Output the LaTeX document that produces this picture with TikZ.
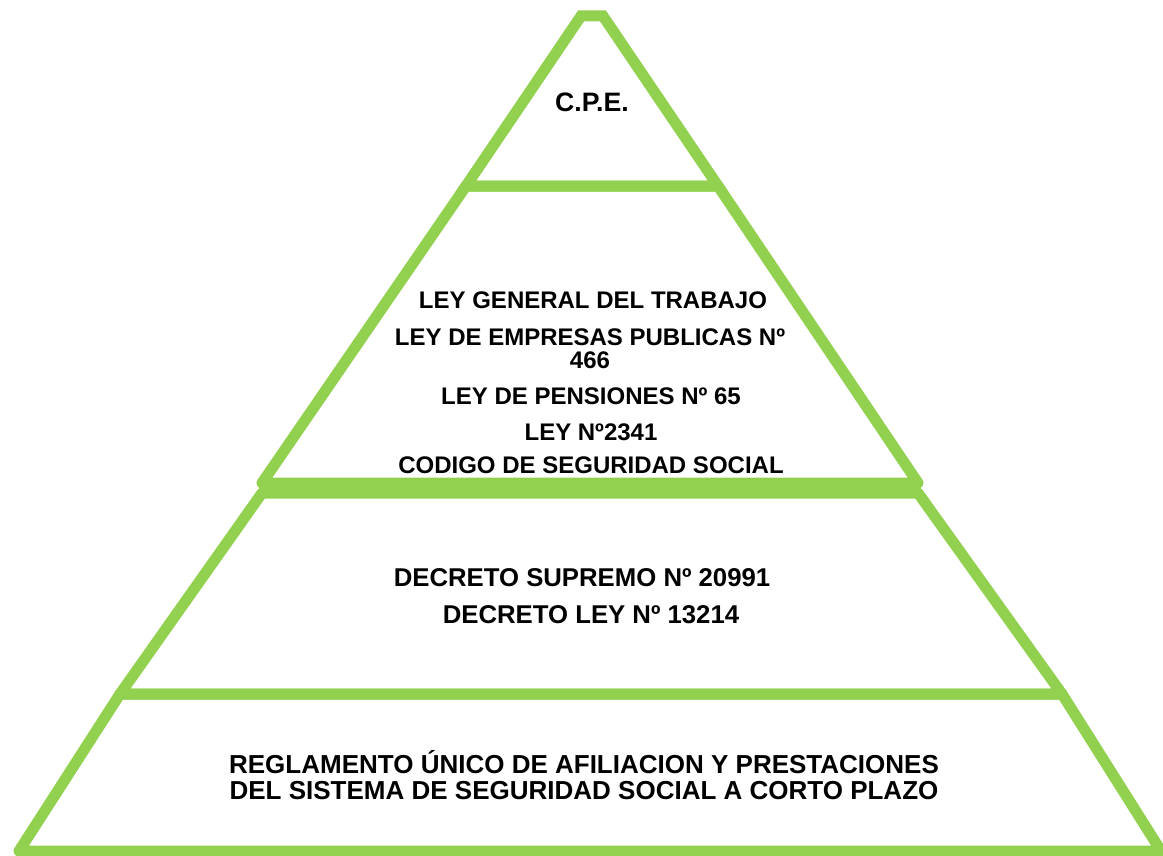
\documentclass[tikz,border=0pt]{standalone}
\usepackage{fontspec}
\setmainfont{Liberation Sans}
\usetikzlibrary{positioning}
\definecolor{pyrgreen}{RGB}{146,208,80}

\begin{document}
\begin{tikzpicture}[x=0.75pt,y=0.75pt,yscale=-1,xscale=1,
  layer/.style={draw=pyrgreen, line width=8.25pt, line join=round},
  lbl/.style={font=\fontsize{#1}{#1}\selectfont\bfseries, inner sep=0.75pt, align=center},
  lbl/.default=18]
\useasboundingbox (0,0) rectangle (1163,856);

%Shape: Triangle [id:top]
\draw [layer, line join=miter] (581,16) -- (603,16) -- (718,186) -- (466,186) -- cycle ;
%Shape: Trapezoid [id:laws]
\draw [layer] (466,186) -- (718,186) -- (918,483) -- (262,483) -- cycle ;
%Shape: Trapezoid [id:decrees]
\draw [layer] (262,493) -- (918,493) -- (1062,694) -- (120,694) -- cycle ;
%Shape: Trapezoid [id:rules]
\draw [layer] (120,694) -- (1062,694) -- (1161,851) -- (19,851) -- cycle ;

% Text Node
\node [lbl=20] (cpe) at (592,102) {C.P.E.};
% Text Node
\node [lbl] (lgt) at (593,300) {LEY GENERAL DEL TRABAJO};
% Text Node
\node [lbl, font=\fontsize{18}{17}\selectfont\bfseries] (lep) at (590,349) {LEY DE EMPRESAS PUBLICAS Nº\\466};
% Text Node
\node [lbl] (lpn) at (591,396) {LEY DE PENSIONES Nº 65};
% Text Node
\node [lbl] (ley) at (591,432) {LEY Nº2341};
% Text Node
\node [lbl] (css) at (591,465) {CODIGO DE SEGURIDAD SOCIAL};
% Text Node
\node [lbl=19.3] (dsu) at (582,578) {DECRETO SUPREMO Nº 20991};
% Text Node
\node [lbl=19.3] (dly) at (591,615) {DECRETO LEY Nº 13214};
% Text Node
\node [lbl=19.5] (reg) at (584,775) {REGLAMENTO ÚNICO DE AFILIACION Y PRESTACIONES\\DEL SISTEMA DE SEGURIDAD SOCIAL A CORTO PLAZO};

\end{tikzpicture}
\end{document}
